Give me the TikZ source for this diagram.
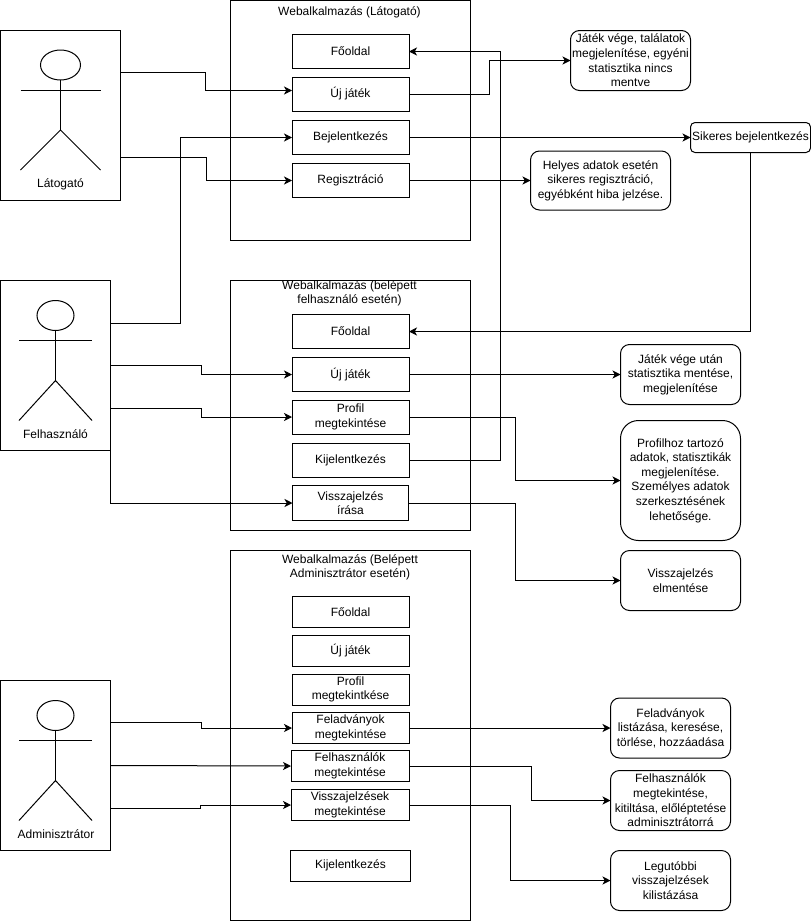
\documentclass[tikz,border=0pt]{standalone}
\usepackage{fontspec}
\setmainfont{Liberation Sans}
\usetikzlibrary{arrows.meta}
\tikzset{
  x=1pt,y=-1pt,
  every node/.style={font=\fontsize{12}{14.6}\selectfont,align=center,inner sep=0pt,outer sep=0pt},
  actorbox/.style={draw,line width=1pt},
  webbox/.style={draw,line width=1pt},
  btn/.style={draw,line width=1pt,minimum width=117pt,minimum height=34pt},
  res/.style={draw,line width=1pt,rounded corners=9pt,minimum width=120pt,minimum height=60pt},
  fig/.style={line width=1pt},
  arr/.style={line width=1pt,-{Stealth[length=8pt,width=8pt,inset=2.2pt]}},
}
\newcommand{\stickman}[5]{% head x, head y, head x radius, arm left, arm right
  \draw[fig] (#1,#2) ellipse [x radius=#3,y radius=15];
  \draw[fig] (#1,#2+15) -- (#1,#2+65);
  \draw[fig] (#4,#2+25) -- (#5,#2+25);
  \draw[fig] (#4,#2+105) -- (#1,#2+65) -- (#5,#2+105);
}
\begin{document}
\begin{tikzpicture}
\useasboundingbox (0,0) rectangle (811,921);
% containers
\node[webbox,minimum width=240pt,minimum height=240pt] (w1) at (350.5,120) {};
\node[webbox,minimum width=240pt,minimum height=250pt] (w2) at (350.5,405) {};
\node[webbox,minimum width=240pt,minimum height=370pt] (w3) at (350.5,735) {};
\node (t1) at (349.5,12.5) {Webalkalmazás (Látogató)};
\node (t2) at (349.5,293.5) {Webalkalmazás (belépett\\felhasználó esetén)};
\node (t3) at (350,567.5) {Webalkalmazás (Belépett\\Adminisztrátor esetén)};
% actors
\node[actorbox,minimum width=120pt,minimum height=170pt] (a1) at (60.5,115) {};
\node[actorbox,minimum width=110pt,minimum height=170pt] (a2) at (55.5,365) {};
\node[actorbox,minimum width=110pt,minimum height=170pt] (a3) at (55.5,765) {};
\stickman{60.5}{65}{20}{20.5}{100.5}
\stickman{55.5}{315.5}{18.5}{19}{92}
\stickman{55.5}{715.5}{18.5}{19}{92}
\node (al1) at (60.5,184) {Látogató};
\node (al2) at (55.5,434) {Felhasználó};
\node (al3) at (56,834) {Adminisztrátor};
% web 1
\node[btn] (fo1) at (350.5,51.5) {Főoldal};
\node[btn] (uj1) at (350.5,94) {Új játék};
\node[btn] (be1) at (350.5,137.5) {Bejelentkezés};
\node[btn] (re1) at (350.5,180.5) {Regisztráció};
% web 2
\node[btn] (fo2) at (350.5,331.5) {Főoldal};
\node[btn] (uj2) at (350.5,374.5) {Új játék};
\node[btn] (pr2) at (350.5,417) {Profil\\megtekintése};
\node[btn] (ki2) at (350.5,460) {Kijelentkezés};
\node[btn,minimum width=116pt,minimum height=35pt] (vi2) at (350.5,503) {Visszajelzés\\írása};
% web 3
\node[btn,minimum height=31pt] (fo3) at (350.5,612) {Főoldal};
\node[btn,minimum height=31pt] (uj3) at (350.5,650.5) {Új játék};
\node[btn,minimum height=31pt] (pr3) at (350.5,689.5) {Profil\\megtekintkése};
\node[btn,minimum height=31pt] (fe3) at (350.5,728) {Feladványok\\megtekintése};
\node[btn,minimum width=118pt,minimum height=31pt] (fh3) at (350,766) {Felhasználók\\megtekintése};
\node[btn,minimum width=118pt,minimum height=31pt] (vi3) at (350,805) {Visszajelzések\\megtekintése};
\node[btn,minimum width=120pt,minimum height=31pt] (ki3) at (350.5,865.5) {Kijelentkezés};
% results
\node[res] (r1) at (630.5,60.5) {Játék vége, találatok\\megjelenítése, egyéni\\statisztika nincs\\mentve};
\node[res,minimum width=140pt,minimum height=59pt] (r2) at (600.5,180.5) {Helyes adatok esetén\\sikeres regisztráció,\\egyébként hiba jelzése.};
\node[res,minimum height=30pt,rounded corners=4.5pt] (r3) at (750.5,137.5) {Sikeres bejelentkezés};
\node[res] (r4) at (680.5,374.5) {Játék vége után\\statisztika mentése,\\megjelenítése};
\node[res,minimum height=120pt,rounded corners=18pt] (r5) at (680.5,480.5) {Profilhoz tartozó\\adatok, statisztikák\\megjelenítése.\\Személyes adatok\\szerkesztésének\\lehetősége.};
\node[res] (r6) at (680.5,580.5) {Visszajelzés\\elmentése};
\node[res] (r7) at (670.5,728) {Feladványok\\listázása, keresése,\\törlése, hozzáadása};
\node[res] (r8) at (670.5,800.5) {Felhasználók\\megtekintése,\\kitiltása, előléptetése\\adminisztrátorrá};
\node[res] (r9) at (670.5,880.5) {Legutóbbi\\visszajelzések\\kilistázása};
% actor exits
\coordinate (x1) at (120.5,72.5);
\coordinate (x2) at (120.5,157.5);
\coordinate (x3) at (110.5,323);
\coordinate (x4) at (110.5,365.5);
\coordinate (x5) at (110.5,408);
\coordinate (x7) at (110.5,722.5);
\coordinate (x8) at (110.5,765.5);
\coordinate (x9) at (110.5,808);
\coordinate (e1) at (292,90.5);
% connectors from actors
\draw[arr] (x1) -- ++(85,0) |- (e1);
\draw[arr] (x2) -- ++(86,0) |- (re1.west);
\draw[arr] (x3) -- ++(70,0) |- (be1.west);
\draw[arr] (x4) -- ++(91,0) |- (uj2.west);
\draw[arr] (x5) -- ++(91,0) |- (pr2.west);
\draw[arr] (a2.south east) |- (vi2.west);
\draw[arr] (x7) -- ++(91,0) |- (fe3.west);
\draw[arr] (x8) -- (fh3.west);
\draw[arr] (x9) -- ++(90,0) |- (vi3.west);
% connectors to results
\draw[arr] (uj1.east) -- ++(80,0) |- (r1.west);
\draw[arr] (be1.east) -- (r3.west);
\draw[arr] (re1.east) -- (r2.west);
\draw[arr] (r3.south) |- (fo2.east);
\draw[arr] (ki2.east) -- ++(91,0) |- (fo1.east);
\draw[arr] (uj2.east) -- (r4.west);
\draw[arr] (pr2.east) -- ++(106,0) |- (r5.west);
\draw[arr] (vi2.east) -- ++(106.5,0) |- (r6.west);
\draw[arr] (fe3.east) -- (r7.west);
\draw[arr] (fh3.east) -- ++(122,0) |- (r8.west);
\draw[arr] (vi3.east) -- ++(101,0) |- (r9.west);
\end{tikzpicture}
\end{document}
